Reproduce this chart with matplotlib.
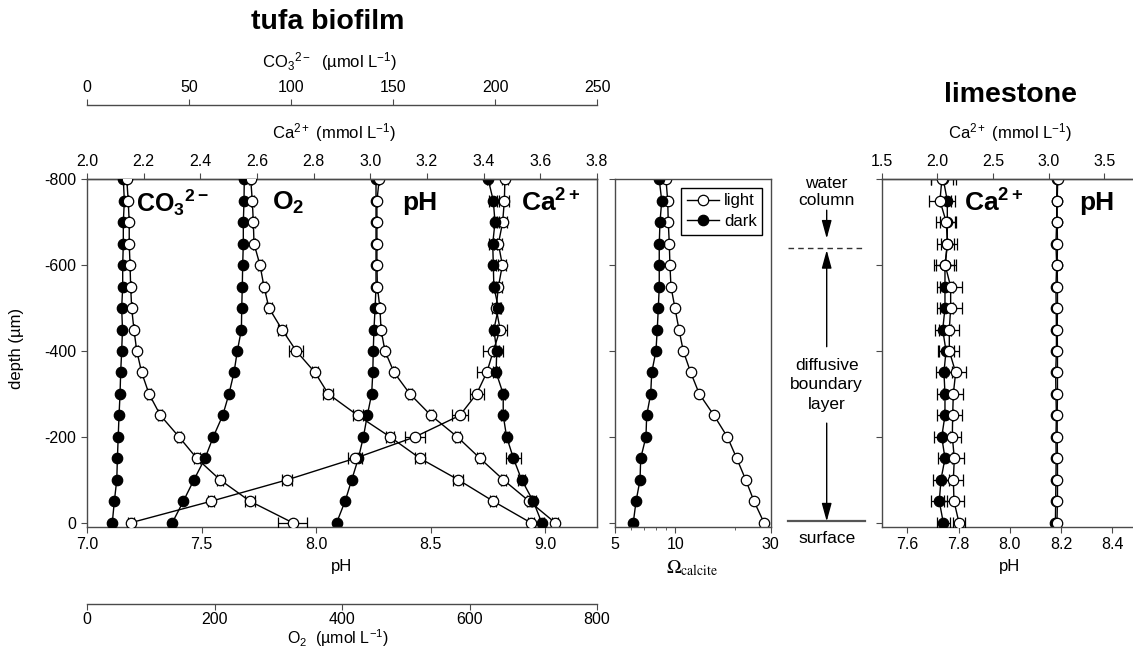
import numpy as np
import matplotlib
matplotlib.use("Agg")
import matplotlib.pyplot as plt
from matplotlib.ticker import FixedLocator, NullFormatter, FormatStrFormatter, FuncFormatter
from matplotlib.transforms import blended_transform_factory
from matplotlib.patches import FancyArrowPatch
from matplotlib.lines import Line2D

# ---------------- data ----------------
depth = [-800, -750, -700, -650, -600, -550, -500, -450, -400,
         -350, -300, -250, -200, -150, -100, -50, 0]          # µm

# tufa biofilm: carbonate ion (µmol/L)
co3_dark = [17.8, 18.3, 17.8, 17.8, 17.5, 17.5, 17.0, 17.4, 17.0,
            16.5, 16.2, 15.7, 15.3, 14.9, 14.6, 13.4, 12.4]
co3_light = [19.5, 20.2, 20.7, 20.7, 21.1, 21.4, 21.9, 23.0, 24.4,
             26.8, 30.4, 36.0, 45.1, 53.8, 65.2, 79.9, 100.8]
co3_light_err = [0, 0, 0, 0, 0, 0, 0, 0, 0.8,
                 0.8, 1.0, 1.0, 1.2, 1.5, 1.5, 2.5, 7.0]

# tufa biofilm: oxygen (µmol/L)
o2_dark = [246.7, 246.3, 245.2, 245.2, 244.2, 243.6, 242.7, 242.2, 235.8,
           230.6, 222.7, 212.9, 198.1, 185.1, 167.8, 151.1, 133.8]
o2_light = [256.8, 259.3, 260.9, 262.0, 271.4, 277.6, 285.5, 305.9, 328.3,
            357.6, 378.5, 424.6, 475.3, 522.3, 582.4, 637.3, 696.0]
o2_light_err = [2, 2, 2, 2, 3, 3, 4, 6, 11, 5, 8, 8, 6, 8, 8, 5, 5]

# tufa biofilm: pH
ph_dark = [8.262, 8.262, 8.262, 8.262, 8.262, 8.262, 8.258, 8.253, 8.250,
           8.248, 8.243, 8.224, 8.207, 8.185, 8.156, 8.127, 8.090]
ph_light = [8.276, 8.266, 8.266, 8.266, 8.266, 8.268, 8.279, 8.284, 8.301,
            8.341, 8.410, 8.502, 8.617, 8.716, 8.818, 8.931, 9.044]
ph_light_err = [0, 0, 0, 0, 0, 0, 0, 0, 0.005,
                0.005, 0.008, 0.010, 0.012, 0.012, 0.010, 0.010, 0.012]

# tufa biofilm: calcium (mmol/L)
ca_dark = [3.416, 3.434, 3.440, 3.432, 3.434, 3.436, 3.452, 3.436, 3.446,
           3.444, 3.469, 3.469, 3.481, 3.505, 3.534, 3.575, 3.605]
ca_dark_err = [0.005, 0.014, 0.008, 0.014, 0.008, 0.008, 0.008, 0.010, 0.008,
               0.010, 0.008, 0.008, 0.010, 0.025, 0.012, 0.008, 0.008]
ca_light = [3.475, 3.473, 3.467, 3.452, 3.466, 3.452, 3.444, 3.458, 3.434,
            3.411, 3.375, 3.316, 3.158, 2.946, 2.707, 2.438, 2.155]
ca_light_err = [0.010, 0.018, 0.014, 0.014, 0.014, 0.014, 0.014, 0.025, 0.035,
                0.035, 0.025, 0.028, 0.035, 0.025, 0.018, 0.010, 0.010]

# tufa biofilm: calcite saturation
omega_dark = [8.32, 8.56, 8.39, 8.32, 8.32, 8.32, 8.23, 8.13, 8.01,
              7.63, 7.54, 7.20, 7.14, 6.72, 6.67, 6.37, 6.17]
omega_light = [8.99, 9.17, 9.23, 9.34, 9.41, 9.52, 9.97, 10.44, 10.97,
               11.95, 13.19, 15.62, 18.21, 20.29, 22.50, 24.76, 27.78]

# limestone: calcium (mmol/L) and pH
ls_ca_dark = [2.053, 2.089, 2.089, 2.089, 2.068, 2.068, 2.068, 2.048, 2.077,
              2.059, 2.068, 2.068, 2.039, 2.068, 2.032, 2.017, 2.053]
ls_ca_dark_err = [0.11, 0.07, 0.07, 0.06, 0.08, 0.07, 0.07, 0.07, 0.07,
                  0.07, 0.07, 0.07, 0.07, 0.06, 0.07, 0.07, 0.06]
ls_ca_light = [2.040, 2.023, 2.080, 2.090, 2.070, 2.119, 2.119, 2.107, 2.107,
               2.164, 2.143, 2.137, 2.134, 2.152, 2.143, 2.149, 2.194]
ls_ca_light_err = [0.10, 0.10, 0.09, 0.09, 0.10, 0.10, 0.10, 0.09, 0.09,
                   0.09, 0.09, 0.08, 0.08, 0.09, 0.09, 0.09, 0.05]
ls_ph_dark = [8.184, 8.183, 8.183, 8.180, 8.183, 8.180, 8.181, 8.182, 8.182,
              8.179, 8.180, 8.182, 8.180, 8.181, 8.180, 8.179, 8.178]
ls_ph_light = [8.187, 8.185, 8.185, 8.186, 8.185, 8.186, 8.186, 8.185, 8.186,
               8.186, 8.186, 8.185, 8.185, 8.186, 8.186, 8.186, 8.184]

# zonation of the water above the biofilm (µm)
dbl_top = -640
surface = 0

# ---------------- style ----------------
plt.rcParams.update({
    'font.family': ['Liberation Sans', 'DejaVu Sans'],
    'mathtext.fontset': 'custom',
    'mathtext.rm': 'Liberation Sans',
    'mathtext.it': 'Liberation Sans:italic',
    'mathtext.bf': 'Liberation Sans:bold',
    'axes.unicode_minus': False,
    'font.size': 11.5,
    'axes.linewidth': 1.0,
    'axes.edgecolor': '#4a4a4a',
    'xtick.color': '#4a4a4a', 'ytick.color': '#4a4a4a',
    'xtick.labelcolor': 'black', 'ytick.labelcolor': 'black',
    'xtick.direction': 'out', 'ytick.direction': 'out',
    'xtick.major.size': 4, 'ytick.major.size': 4,
    'xtick.minor.size': 2.5,
    'xtick.labelsize': 11.5, 'ytick.labelsize': 11.5,
})

W, H = 1133, 648
fig = plt.figure(figsize=(W / 100, H / 100), dpi=100)

Y_TOP, Y_BOT = 179.3, 527.0


def box(x0, x1):
    return [x0 / W, 1 - Y_BOT / H, (x1 - x0) / W, (Y_BOT - Y_TOP) / H]


def ftext(x, y, s, **kw):
    kw.setdefault('ha', 'center')
    kw.setdefault('va', 'center')
    return fig.text(x / W, 1 - y / H, s, **kw)


light_kw = dict(fmt='-o', color='black', mfc='white', mec='black', ms=7.5,
                mew=0.9, lw=1.0, elinewidth=0.9, capsize=4.5, capthick=0.9)
dark_kw = dict(light_kw, mfc='black')
line_light = dict(color='black', marker='o', mfc='white', mec='black',
                  ms=7.5, mew=0.9, lw=1.0)
line_dark = dict(line_light, mfc='black')

# ---------------- tufa biofilm profiles ----------------
ax = fig.add_axes(box(87, 597))
ax.set_ylim(10, -800)
ax.set_yticks([-800, -600, -400, -200, 0])
ax.set_xlim(7.0, 9.227)
ax.set_xticks([7.0, 7.5, 8.0, 8.5, 9.0])
ax.xaxis.set_major_formatter(FormatStrFormatter('%.1f'))
ax.tick_params(right=False, top=False)

ax_ca = ax.twiny()
ax_ca.set_xlim(2.0, 3.8)
ax_ca.set_xticks(np.round(np.arange(2.0, 3.81, 0.2), 1))
ax_ca.xaxis.set_major_formatter(FormatStrFormatter('%.1f'))
for s in ('bottom', 'left', 'right'):
    ax_ca.spines[s].set_visible(False)

ax_co3 = ax.twiny()
ax_co3.set_xlim(0, 250)
ax_co3.set_xticks([0, 50, 100, 150, 200, 250])
ax_co3.spines['top'].set_position(('outward', (Y_TOP - 105) * 0.72))
for s in ('bottom', 'left', 'right'):
    ax_co3.spines[s].set_visible(False)

ax_o2 = ax.twiny()
ax_o2.set_xlim(0, 800)
ax_o2.set_xticks([0, 200, 400, 600, 800])
ax_o2.xaxis.set_ticks_position('bottom')
ax_o2.tick_params(axis='x', pad=2)
ax_o2.spines['bottom'].set_position(('outward', (604 - Y_BOT) * 0.72))
for s in ('top', 'left', 'right'):
    ax_o2.spines[s].set_visible(False)

# pH
ax.errorbar(ph_light, depth, xerr=ph_light_err, **light_kw)
ax.plot(ph_dark, depth, **line_dark)
# Ca2+
ax_ca.errorbar(ca_light, depth, xerr=ca_light_err, **light_kw)
ax_ca.errorbar(ca_dark, depth, xerr=ca_dark_err, **dark_kw)
# CO3 2-
ax_co3.errorbar(co3_light, depth, xerr=co3_light_err, **light_kw)
ax_co3.plot(co3_dark, depth, **line_dark)
# O2
ax_o2.errorbar(o2_light, depth, xerr=o2_light_err, **light_kw)
ax_o2.plot(o2_dark, depth, **line_dark)

# ---------------- calcite saturation ----------------
ax_om = fig.add_axes(box(615, 770.7), sharey=ax)
ax_om.set_xscale('log')
ax_om.set_xlim(5, 30)
ax_om.xaxis.set_major_locator(FixedLocator([5, 10, 30]))
ax_om.xaxis.set_major_formatter(FuncFormatter(lambda v, p: f'{v:g}'))
ax_om.xaxis.set_minor_locator(FixedLocator([6, 7, 8, 9, 20]))
ax_om.xaxis.set_minor_formatter(NullFormatter())
ax_om.tick_params(labelleft=False, right=False, top=False)
ax_om.tick_params(which='minor', top=False)
ax_om.plot(omega_light, depth, label='light', **line_light)
ax_om.plot(omega_dark, depth, label='dark', **line_dark)
leg = ax_om.legend(loc='upper right', fontsize=12, frameon=True, fancybox=False,
                   edgecolor='black', framealpha=1, handlelength=1.9,
                   handletextpad=0.3, borderpad=0.35, labelspacing=0.35,
                   borderaxespad=0.5)
leg.get_frame().set_linewidth(1.0)

# ---------------- limestone ----------------
ax_ls = fig.add_axes(box(881.7, 1137.9), sharey=ax)
ax_ls.set_xlim(7.5, 8.5)
ax_ls.set_xticks([7.6, 7.8, 8.0, 8.2, 8.4])
ax_ls.xaxis.set_major_formatter(FormatStrFormatter('%.1f'))
ax_ls.tick_params(labelleft=False, right=False, top=False)
ax_ls.spines['right'].set_visible(False)
ax_ls_ca = ax_ls.twiny()
ax_ls_ca.set_xlim(1.5, 3.8)
ax_ls_ca.set_xticks([1.5, 2.0, 2.5, 3.0, 3.5])
ax_ls_ca.xaxis.set_major_formatter(FormatStrFormatter('%.1f'))
for s in ('bottom', 'left', 'right'):
    ax_ls_ca.spines[s].set_visible(False)

ax_ls.plot(ls_ph_dark, depth, **line_dark)
ax_ls.plot(ls_ph_light, depth, **line_light)
ax_ls_ca.errorbar(ls_ca_dark, depth, xerr=ls_ca_dark_err, **dark_kw)
ax_ls_ca.errorbar(ls_ca_light, depth, xerr=ls_ca_light_err, **light_kw)

# ---------------- texts ----------------
ftext(328, 22, 'tufa biofilm', fontsize=20.5, fontweight='bold')
ftext(1010, 95, 'limestone', fontsize=20.5, fontweight='bold')
ftext(330, 62, r'CO$_3$$^{2-}$  (µmol L$^{-1}$)', fontsize=12)
ftext(334, 133, r'Ca$^{2+}$ (mmol L$^{-1}$)', fontsize=12)
ftext(342, 567, 'pH', fontsize=12)
ftext(338, 638, r'O$_2$  (µmol L$^{-1}$)', fontsize=11.5)
ftext(692, 568, r'$\Omega_{\mathrm{calcite}}$', fontsize=14, math_fontfamily='stix')
ftext(1010, 133, r'Ca$^{2+}$ (mmol L$^{-1}$)', fontsize=12)
ftext(1010, 567, 'pH', fontsize=12)
ftext(17, 348, 'depth (µm)', fontsize=12, rotation=90)

ftext(172, 203, r'$\mathbf{CO_3{}^{2-}}$', fontsize=18)
ftext(288, 203, r'$\mathbf{O_2}$', fontsize=19)
ftext(420, 203, 'pH', fontsize=19, fontweight='bold')
ftext(551, 203, r'$\mathbf{Ca^{2+}}$', fontsize=19)
ftext(994, 203, r'$\mathbf{Ca^{2+}}$', fontsize=19)
ftext(1097, 203, 'pH', fontsize=19, fontweight='bold')

# ---------------- zonation sketch between the panels ----------------
tr = blended_transform_factory(fig.transFigure, ax.transData)
xc = 826.7 / W
xa, xb = 788 / W, 865 / W
fig.add_artist(Line2D([xa, xb], [dbl_top, dbl_top], transform=tr, color='#333333',
                      lw=1.0, ls=(0, (4, 3))))
fig.add_artist(Line2D([xa, xb], [surface - 4, surface - 4], transform=tr,
                      color='#555555', lw=1.6))
fig.text(xc, -770, 'water\ncolumn', transform=tr, ha='center', va='center',
         fontsize=12.5, linespacing=1.2)
fig.text(xc, -321, 'diffusive\nboundary\nlayer', transform=tr, ha='center',
         va='center', fontsize=12.5, linespacing=1.35)
fig.text(xc, surface + 36, 'surface', transform=tr, ha='center', va='center',
         fontsize=12.5)
for y0, y1 in [(-728, dbl_top - 22), (-410, dbl_top + 5), (-232, surface - 3)]:
    fig.add_artist(FancyArrowPatch((xc, y0), (xc, y1), transform=tr,
                                   arrowstyle='-|>,head_length=1.1,head_width=0.3',
                                   mutation_scale=10, lw=1.0, color='black',
                                   shrinkA=0, shrinkB=0))

fig.savefig('out.png', dpi=100)
